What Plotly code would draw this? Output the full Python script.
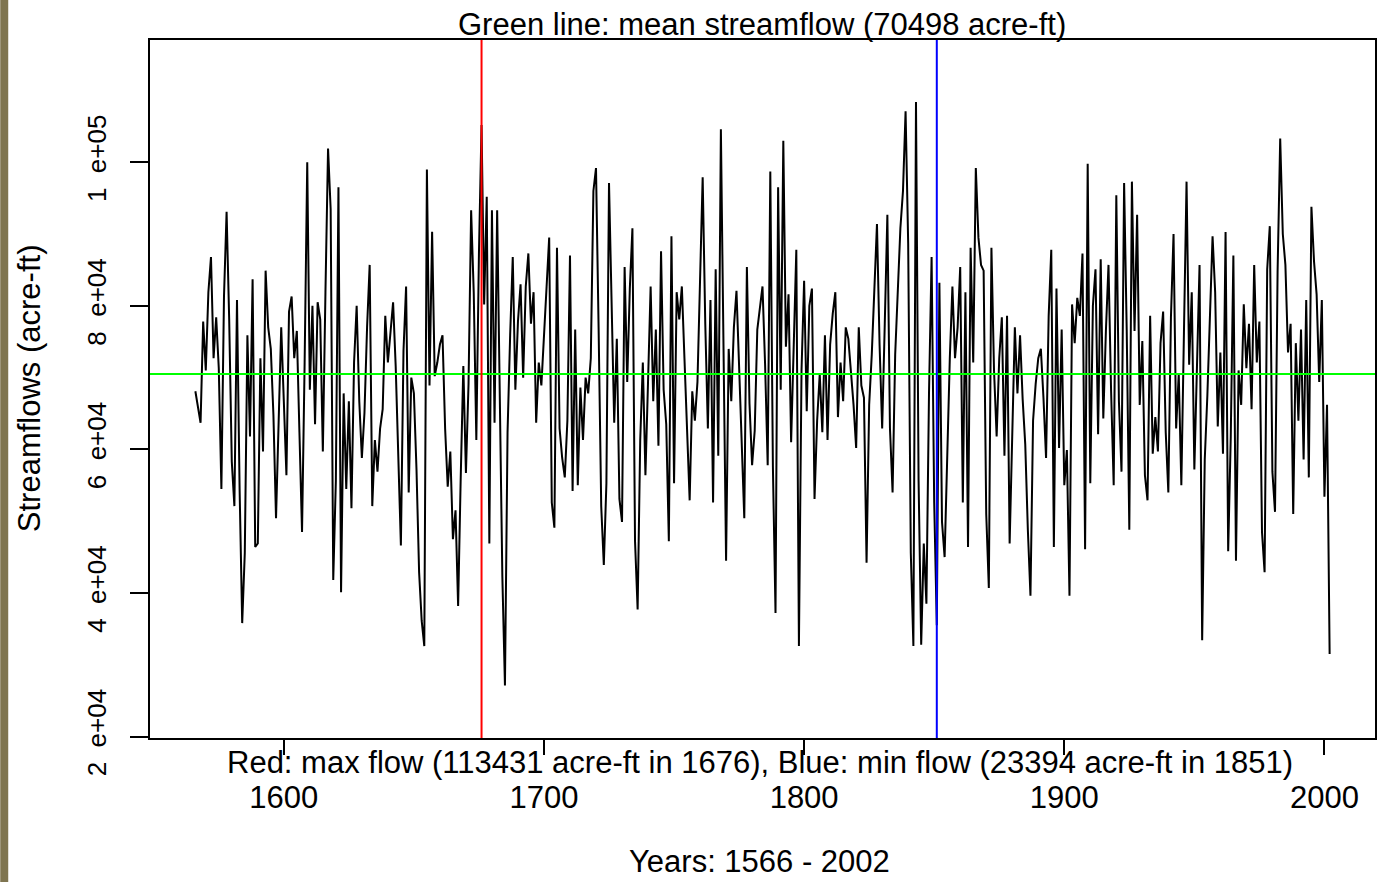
import plotly.graph_objects as go

# ---- data (streamflow in thousands of acre-ft, 1566-2002) ----
first_year = 1566
last_year = 2002
flow_kaf = [
    68.1, 65.9, 63.7, 77.8, 71.0, 81.9, 86.8, 72.7, 78.4, 71.3,
    54.5, 81.3, 93.1, 78.1, 58.3, 52.1, 80.8, 54.5, 35.8, 45.6,
    75.9, 61.8, 83.7, 46.4, 46.9, 72.7, 59.7, 84.9, 77.0, 74.0,
    64.8, 50.4, 63.7, 77.0, 66.7, 56.4, 79.2, 81.3, 72.7, 76.5,
    62.4, 48.5, 72.1, 100.0, 68.3, 80.0, 63.5, 80.5, 78.1, 59.7,
    81.9, 101.9, 93.5, 41.8, 55.6, 96.5, 40.1, 67.8, 54.5, 66.7,
    51.8, 72.1, 80.0, 66.7, 58.8, 65.1, 77.0, 85.7, 52.1, 61.3,
    56.9, 62.9, 65.6, 78.6, 72.1, 76.5, 80.5, 71.6, 58.8, 46.6,
    73.7, 82.7, 54.0, 70.0, 67.8, 57.2, 42.9, 36.1, 32.6, 99.0,
    68.9, 90.3, 70.2, 72.1, 74.6, 75.9, 62.9, 54.8, 59.7, 47.5,
    51.5, 38.2, 56.1, 71.6, 56.7, 69.1, 93.3, 81.9, 61.3, 87.3,
    105.2, 80.2, 95.2, 46.9, 93.3, 63.7, 93.3, 65.6, 42.3, 27.1,
    62.4, 75.9, 86.8, 68.3, 77.8, 83.0, 70.0, 82.7, 87.3, 77.5,
    81.9, 63.7, 72.1, 68.9, 75.4, 83.2, 89.5, 52.6, 49.1, 88.1,
    62.9, 58.8, 56.1, 64.0, 87.0, 54.2, 76.7, 55.0, 68.6, 61.3,
    70.0, 67.8, 72.7, 96.0, 99.2, 77.0, 52.1, 43.9, 55.3, 97.1,
    81.9, 63.7, 75.4, 53.1, 49.9, 85.4, 69.4, 82.4, 90.8, 47.2,
    37.7, 61.3, 72.1, 56.4, 69.4, 82.7, 66.7, 76.7, 60.5, 87.6,
    68.3, 63.5, 47.2, 89.7, 55.3, 81.9, 78.1, 82.7, 72.7, 62.9,
    52.9, 68.1, 64.0, 69.4, 84.0, 97.9, 77.5, 62.9, 80.8, 52.6,
    85.1, 59.1, 104.6, 75.1, 44.5, 74.0, 66.7, 77.0, 82.1, 71.6,
    60.7, 50.4, 85.4, 66.4, 57.8, 62.6, 76.7, 79.4, 82.7, 71.8,
    57.8, 98.7, 57.5, 37.2, 96.5, 68.3, 103.0, 74.3, 81.6, 61.0,
    76.2, 87.8, 32.6, 71.0, 83.5, 65.3, 80.0, 82.4, 53.1, 64.0,
    70.5, 62.4, 75.9, 61.3, 74.6, 78.9, 81.9, 64.5, 72.1, 66.7,
    77.0, 75.4, 70.8, 66.2, 60.2, 77.0, 68.9, 67.2, 44.2, 66.2,
    73.2, 81.9, 91.4, 74.6, 62.9, 77.5, 92.7, 62.9, 54.0, 73.2,
    81.3, 90.8, 96.0, 107.1, 88.7, 45.6, 32.6, 108.4, 55.6, 32.8,
    46.9, 38.5, 67.8, 86.8, 52.6, 35.5, 83.2, 49.9, 45.0, 60.2,
    72.7, 82.7, 72.7, 77.0, 85.4, 52.6, 81.9, 46.4, 88.1, 72.1,
    99.2, 89.5, 85.7, 84.9, 51.0, 40.7, 88.1, 71.0, 61.8, 72.7,
    78.4, 59.1, 78.6, 46.9, 62.6, 77.0, 67.8, 75.9, 67.0, 60.7,
    48.8, 39.6, 64.0, 69.1, 72.7, 74.0, 67.2, 58.8, 78.6, 87.8,
    46.4, 82.4, 60.2, 76.7, 55.0, 59.9, 39.6, 80.2, 74.8, 81.1,
    78.6, 87.3, 46.1, 99.8, 55.3, 80.0, 85.1, 62.1, 86.5, 64.3,
    76.5, 85.7, 68.1, 55.0, 95.4, 66.7, 56.9, 97.1, 76.7, 48.8,
    97.3, 76.5, 92.7, 66.2, 75.1, 56.4, 52.9, 78.6, 59.4, 64.5,
    59.7, 74.8, 79.2, 62.4, 54.0, 78.4, 90.0, 62.9, 70.5, 55.0,
    76.2, 97.3, 71.8, 81.9, 57.2, 73.7, 85.7, 33.4, 58.6, 67.5,
    78.6, 89.7, 81.9, 63.2, 73.5, 59.4, 90.3, 45.8, 61.8, 87.0,
    44.5, 71.0, 66.2, 80.2, 71.3, 77.5, 65.6, 85.7, 72.1, 77.8,
    48.5, 42.9, 85.1, 91.1, 56.9, 51.3, 84.9, 103.3, 90.0, 85.7,
    73.5, 77.5, 51.0, 74.8, 64.0, 76.7, 58.6, 80.8, 56.1, 93.8,
    86.2, 81.6, 69.4, 80.8, 53.4, 66.2, 31.5,
]
mean_flow = 70498
max_flow = 113431
max_year = 1676
min_flow = 23394
min_year = 1851

x_tick_vals = [1600, 1700, 1800, 1900, 2000]
x_tick_text = ["1600", "1700", "1800", "1900", "2000"]
y_tick_vals = [20000, 40000, 60000, 80000, 100000]
y_tick_text = ["2  e+04", "4  e+04", "6  e+04", "8  e+04", "1  e+05"]

years = list(range(first_year, last_year + 1))
flows = [v * 1000 for v in flow_kaf]

FONT = "Liberation Sans, Arial, sans-serif"
W, H = 1378, 882
L, R, T, B = 150, 1, 40, 144
PW, PH = W - L - R, H - T - B

fig = go.Figure()
fig.add_trace(go.Scatter(x=years, y=flows, mode="lines",
                         line=dict(color="black", width=2),
                         hoverinfo="x+y", showlegend=False))

# reference lines
fig.add_shape(type="line", xref="paper", yref="y", x0=0, x1=1,
              y0=mean_flow, y1=mean_flow, line=dict(color="#00ff00", width=2), layer="above")
fig.add_shape(type="line", xref="x", yref="paper", x0=max_year, x1=max_year,
              y0=0, y1=1, line=dict(color="#ff0000", width=2), layer="above")
fig.add_shape(type="line", xref="x", yref="paper", x0=min_year, x1=min_year,
              y0=0, y1=1, line=dict(color="#0000ff", width=2), layer="above")

# page edge stripe
fig.add_shape(type="rect", xref="paper", yref="paper",
              x0=-L / PW, x1=(8 - L) / PW, y0=-B / PH, y1=1 + T / PH,
              fillcolor="#7f7550", line=dict(width=0), layer="below")

def px_x(p):
    return (p - L) / PW

def px_y(p):
    return (T + PH - p) / PH

fig.add_annotation(text=f"Green line: mean streamflow ({mean_flow} acre-ft)",
                   xref="paper", yref="paper", x=px_x(763), y=px_y(25),
                   xanchor="center", yanchor="middle", showarrow=False,
                   font=dict(family=FONT, size=31, color="black"))
fig.add_annotation(text=(f"Red: max flow ({max_flow} acre-ft in {max_year}), "
                         f"Blue: min flow ({min_flow} acre-ft in {min_year})"),
                   xref="paper", yref="paper", x=px_x(761), y=px_y(762),
                   xanchor="center", yanchor="middle", showarrow=False,
                   font=dict(family=FONT, size=31, color="black"))
fig.add_annotation(text=f"Years: {first_year} - {last_year}",
                   xref="paper", yref="paper", x=px_x(760), y=px_y(881),
                   xanchor="center", yanchor="bottom", showarrow=False,
                   font=dict(family=FONT, size=31, color="black"))
fig.add_annotation(text="Streamflows (acre-ft)", textangle=-90,
                   xref="paper", yref="paper", x=px_x(29), y=px_y(388),
                   xanchor="center", yanchor="middle", showarrow=False,
                   font=dict(family=FONT, size=31, color="black"))

fig.update_layout(
    width=W, height=H,
    margin=dict(l=L, r=R, t=T, b=B, pad=0),
    paper_bgcolor="white", plot_bgcolor="white",
    font=dict(family=FONT, size=31, color="black"),
    showlegend=False,
)
fig.update_xaxes(range=[1548.56, 2019.44], tickvals=x_tick_vals, ticktext=x_tick_text,
                 ticks="outside", ticklen=15, tickwidth=1.5, tickcolor="black",
                 showline=True, linecolor="black", linewidth=1.5, mirror=True,
                 showgrid=False, zeroline=False, ticklabelstandoff=16,
                 tickfont=dict(family=FONT, size=31, color="black"))
fig.update_yaxes(range=[19793, 117032], tickvals=y_tick_vals, ticktext=y_tick_text,
                 ticks="outside", ticklen=18, tickwidth=1.5, tickcolor="black",
                 showline=True, linecolor="black", linewidth=1.5, mirror=True,
                 showgrid=False, zeroline=False, tickangle=-90, ticklabelstandoff=14,
                 tickfont=dict(family=FONT, size=26, color="black"))

fig.write_html("out.html", config={"displayModeBar": False},
               post_script="document.body.style.margin='0';document.body.style.padding='0';"
                           "document.body.style.overflow='hidden';")
